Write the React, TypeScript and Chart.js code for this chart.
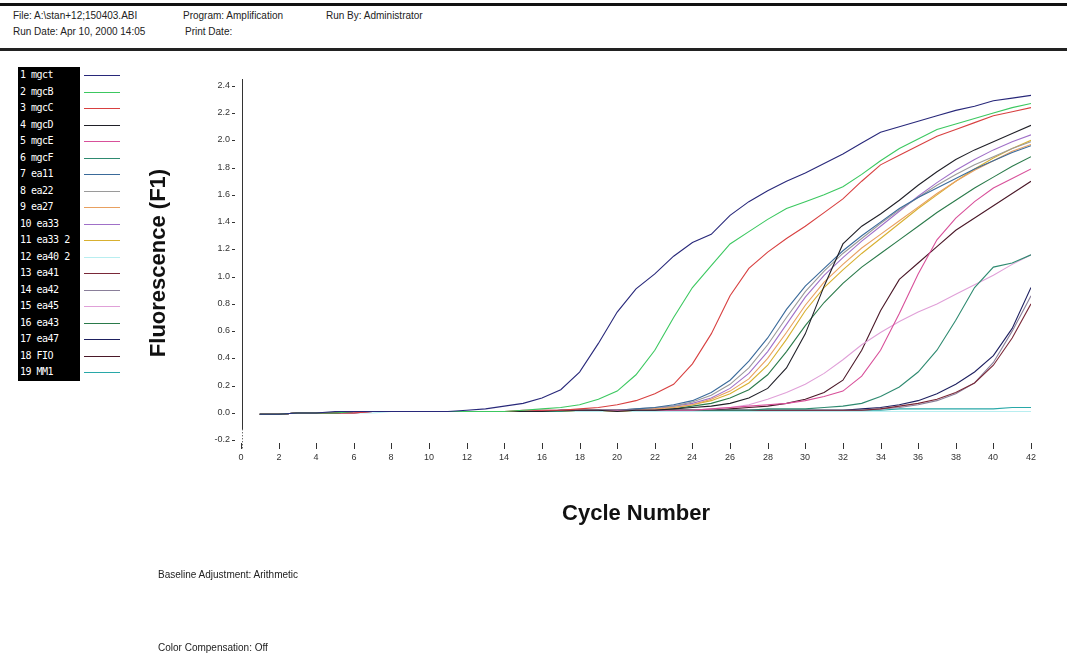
import React, { useEffect, useRef } from "react";
import { Chart, registerables } from "chart.js";

Chart.register(...registerables);

const CYCLES = [1,2,3,4,5,6,7,8,9,10,11,12,13,14,15,16,17,18,19,20,21,22,23,24,25,26,27,28,29,30,31,32,33,34,35,36,37,38,39,40,41,42];
const X_TICKS = [0,2,4,6,8,10,12,14,16,18,20,22,24,26,28,30,32,34,36,38,40,42];
const Y_TICKS = [2.4,2.2,2.0,1.8,1.6,1.4,1.2,1.0,0.8,0.6,0.4,0.2,0.0,-0.2];

const NAMES = ["1 mgct","2 mgcB","3 mgcC","4 mgcD","5 mgcE","6 mgcF","7 ea11","8 ea22","9 ea27","10 ea33","11 ea33 2","12 ea40 2","13 ea41","14 ea42","15 ea45","16 ea43","17 ea47","18 FIO","19 MM1"];

const S1 = [-0.01,-0.01,0,0,0.01,0.01,0.01,0.01,0.01,0.01,0.01,0.02, 0.03,0.05,0.07,0.11,0.17,0.30,0.51,0.74,0.91,1.02, 1.15,1.25,1.31,1.45,1.55,1.63,1.70,1.76,1.83,1.90, 1.98,2.06,2.10,2.14,2.18,2.22,2.25,2.29,2.31,2.33];
const S2 = [-0.01,-0.01,0,0,0,0.01,0.01,0.01,0.01,0.01,0.01,0.01, 0.01,0.01,0.02,0.03,0.04,0.06,0.10,0.16,0.28,0.46, 0.70,0.92,1.08,1.24,1.33,1.42,1.50,1.55,1.60,1.66, 1.75,1.85,1.94,2.01,2.08,2.12,2.16,2.20,2.24,2.27];
const S3 = [-0.01,-0.01,0,0,0,0,0.01,0.01,0.01,0.01,0.01,0.01, 0.01,0.01,0.02,0.02,0.02,0.03,0.04,0.06,0.09,0.14, 0.21,0.36,0.58,0.86,1.06,1.18,1.28,1.37,1.47,1.57, 1.70,1.82,1.89,1.96,2.03,2.08,2.13,2.18,2.21,2.24];
const S4 = [-0.01,-0.01,0,0,0,0.01,0.01,0.01,0.01,0.01,0.01,0.01, 0.01,0.01,0.01,0.01,0.02,0.02,0.02,0.01,0.02,0.02, 0.03,0.04,0.05,0.07,0.11,0.18,0.33,0.58,0.93,1.24, 1.37,1.46,1.56,1.67,1.77,1.86,1.93,1.99,2.05,2.11];
const S5 = [-0.01,-0.01,0,0,0,0,0.01,0.01,0.01,0.01,0.01,0.01, 0.01,0.01,0.01,0.02,0.02,0.02,0.02,0.02,0.02,0.02, 0.02,0.02,0.03,0.04,0.05,0.06,0.07,0.09,0.12,0.16, 0.27,0.46,0.73,1.02,1.27,1.43,1.55,1.65,1.72,1.79];
const S6 = [-0.01,-0.01,0,0,0,0,0.01,0.01,0.01,0.01,0.01,0.01, 0.01,0.01,0.01,0.01,0.01,0.02,0.02,0.02,0.02,0.02, 0.02,0.02,0.02,0.02,0.02,0.03,0.03,0.03,0.04,0.05, 0.07,0.12,0.19,0.30,0.46,0.68,0.92,1.07,1.10,1.16];
const S7 = [-0.01,-0.01,0,0,0,0.01,0.01,0.01,0.01,0.01,0.01,0.01, 0.01,0.01,0.01,0.01,0.02,0.02,0.02,0.02,0.03,0.04, 0.06,0.09,0.15,0.24,0.38,0.55,0.76,0.93,1.06,1.19, 1.30,1.40,1.50,1.58,1.65,1.72,1.79,1.85,1.91,1.96];
const S8 = [-0.01,-0.01,0,0,0,0.01,0.01,0.01,0.01,0.01,0.01,0.01, 0.01,0.01,0.01,0.01,0.02,0.02,0.02,0.02,0.03,0.04, 0.05,0.08,0.13,0.21,0.33,0.50,0.70,0.89,1.04,1.17, 1.28,1.39,1.49,1.58,1.67,1.75,1.82,1.88,1.94,1.99];
const S9 = [-0.01,-0.01,0,0,0,0.01,0.01,0.01,0.01,0.01,0.01,0.01, 0.01,0.01,0.01,0.01,0.01,0.02,0.02,0.01,0.02,0.03, 0.04,0.06,0.10,0.16,0.25,0.40,0.59,0.79,0.96,1.09, 1.21,1.31,1.41,1.51,1.61,1.70,1.78,1.85,1.92,1.97];
const S10 = [-0.01,-0.01,0,0,0,0.01,0.01,0.01,0.01,0.01,0.01,0.01, 0.01,0.01,0.01,0.01,0.02,0.02,0.02,0.02,0.02,0.03, 0.05,0.07,0.11,0.18,0.29,0.45,0.65,0.85,1.01,1.14, 1.26,1.37,1.48,1.59,1.69,1.78,1.86,1.93,1.99,2.04];
const S11 = [-0.01,-0.01,0,0,0,0.01,0.01,0.01,0.01,0.01,0.01,0.01, 0.01,0.01,0.01,0.01,0.01,0.02,0.02,0.01,0.02,0.03, 0.04,0.06,0.09,0.14,0.22,0.35,0.54,0.75,0.92,1.05, 1.17,1.28,1.39,1.50,1.60,1.70,1.79,1.87,1.94,2.00];
const S12 = [-0.01,-0.01,0,0,0,0,0,0.01,0.01,0.01,0.01,0.01, 0.01,0.01,0.01,0.01,0.01,0.01,0.01,0.01,0.01,0.01, 0.01,0.01,0.01,0.01,0.01,0.01,0.01,0.01,0.01,0.01, 0.01,0.01,0.01,0.01,0.01,0.01,0.01,0.01,0.01,0.01];
const S13 = [-0.01,-0.01,0,0,0,0.01,0.01,0.01,0.01,0.01,0.01,0.01, 0.01,0.01,0.01,0.01,0.01,0.01,0.02,0.02,0.02,0.02, 0.02,0.02,0.02,0.02,0.02,0.02,0.02,0.02,0.02,0.02, 0.02,0.03,0.05,0.07,0.10,0.15,0.22,0.35,0.55,0.80];
const S14 = [-0.01,-0.01,0,0,0,0.01,0.01,0.01,0.01,0.01,0.01,0.01, 0.01,0.01,0.01,0.01,0.01,0.01,0.01,0.02,0.02,0.02, 0.02,0.02,0.02,0.02,0.02,0.02,0.02,0.02,0.02,0.02, 0.02,0.03,0.04,0.06,0.09,0.14,0.22,0.37,0.60,0.86];
const S15 = [-0.01,-0.01,0,0,0,0.01,0.01,0.01,0.01,0.01,0.01,0.01, 0.01,0.01,0.01,0.01,0.01,0.01,0.01,0.01,0.01,0.01, 0.01,0.02,0.03,0.04,0.06,0.10,0.15,0.21,0.29,0.39, 0.50,0.59,0.67,0.74,0.80,0.87,0.94,1.01,1.09,1.16];
const S16 = [-0.01,-0.01,0,0,0,0.01,0.01,0.01,0.01,0.01,0.01,0.01, 0.01,0.01,0.01,0.01,0.01,0.01,0.02,0.01,0.02,0.02, 0.03,0.05,0.07,0.11,0.17,0.28,0.45,0.64,0.81,0.95, 1.07,1.17,1.27,1.37,1.47,1.56,1.65,1.73,1.81,1.88];
const S17 = [-0.01,-0.01,0,0,0,0.01,0.01,0.01,0.01,0.01,0.01,0.01, 0.01,0.01,0.01,0.01,0.01,0.01,0.01,0.01,0.01,0.02, 0.02,0.02,0.02,0.02,0.02,0.02,0.02,0.02,0.02,0.02, 0.03,0.04,0.06,0.09,0.14,0.21,0.30,0.42,0.62,0.92];
const S18 = [-0.01,-0.01,0,0,0,0.01,0.01,0.01,0.01,0.01,0.01,0.01, 0.01,0.01,0.01,0.01,0.01,0.02,0.02,0.02,0.02,0.02, 0.02,0.02,0.02,0.03,0.04,0.05,0.07,0.10,0.15,0.24, 0.46,0.75,0.98,1.10,1.22,1.34,1.43,1.52,1.61,1.70];
const S19 = [-0.01,-0.01,0,0,0,0.01,0.01,0.01,0.01,0.01,0.01,0.01, 0.01,0.01,0.01,0.01,0.01,0.01,0.01,0.01,0.01,0.01, 0.01,0.01,0.01,0.02,0.02,0.02,0.02,0.02,0.02,0.02, 0.02,0.02,0.03,0.03,0.03,0.03,0.03,0.03,0.04,0.04];

const SERIES = [S1,S2,S3,S4,S5,S6,S7,S8,S9,S10,S11,S12,S13,S14,S15,S16,S17,S18,S19];
const COLORS = ["#28287a","#3cc860","#d84040","#202028","#d8509a","#2e8a70","#3a6a9a","#9a9a9a","#e8a060","#a070c8","#d8b030","#b8eef0","#7a2838","#8a7f9a","#e0a0d8","#2a7a4a","#1e2060","#4a1828","#28a8a8"];

const HEADER_LINE1 = ["File: A:\\stan+12;150403.ABI", "Program: Amplification", "Run By: Administrator"];
const HEADER_LINE2 = ["Run Date: Apr 10, 2000 14:05", "Print Date:"];

const axesPlugin = {
  id: "pcrAxes",
  afterDraw(chart: any) {
    const ctx = chart.ctx;
    const xs = chart.scales.x;
    const ys = chart.scales.y;
    const x0 = xs.getPixelForValue(0) + 1;
    ctx.save();
    ctx.strokeStyle = "#333";
    ctx.lineWidth = 1;
    // vertical axis line
    ctx.beginPath();
    ctx.moveTo(x0 + 0.5, ys.getPixelForValue(2.45));
    ctx.lineTo(x0 + 0.5, ys.getPixelForValue(-0.12));
    ctx.stroke();
    ctx.setLineDash([1, 2]);
    ctx.beginPath();
    ctx.moveTo(x0 + 0.5, ys.getPixelForValue(-0.12));
    ctx.lineTo(x0 + 0.5, ys.getPixelForValue(-0.27));
    ctx.stroke();
    ctx.setLineDash([]);
    // y ticks
    ctx.fillStyle = "#333";
    ctx.font = "9px 'Liberation Sans', Arial, sans-serif";
    ctx.textAlign = "right";
    ctx.textBaseline = "middle";
    Y_TICKS.forEach((v) => {
      const py = Math.round(ys.getPixelForValue(v));
      ctx.fillText(v.toFixed(1), x0 - 12, py);
      ctx.fillRect(x0 - 10, py, 3, 1);
    });
    // x ticks
    ctx.textAlign = "center";
    X_TICKS.forEach((v) => {
      const px = Math.round(xs.getPixelForValue(v));
      ctx.fillRect(px, 443, 1, 6);
      ctx.fillText(String(v), px, 458);
    });
    // titles
    ctx.fillStyle = "#111";
    ctx.font = "bold 22px 'Liberation Sans', Arial, sans-serif";
    ctx.textAlign = "center";
    ctx.fillText("Cycle Number", 636, 514);
    ctx.save();
    ctx.translate(159, 263);
    ctx.rotate(-Math.PI / 2);
    ctx.fillText("Fluorescence (F1)", 0, 0);
    ctx.restore();
    ctx.restore();
  },
};

export default function App() {
  const ref = useRef<HTMLCanvasElement | null>(null);
  useEffect(() => {
    document.body.style.margin = "0";
    document.body.style.overflow = "hidden";
    if (!ref.current) return;
    const datasets = SERIES.map((vals, i) => ({
      label: NAMES[i],
      data: CYCLES.map((c, j) => ({ x: c, y: vals[j] })),
      borderColor: COLORS[i],
      backgroundColor: COLORS[i],
      borderWidth: 1.1,
      pointRadius: 0,
      tension: 0,
      fill: false,
    }));
    const chart = new Chart(ref.current, {
      type: "line",
      data: { datasets },
      options: {
        animation: false,
        responsive: false,
        maintainAspectRatio: false,
        layout: { padding: { left: 241, right: 36, top: 79, bottom: 212 } },
        plugins: { legend: { display: false }, tooltip: { enabled: false } },
        scales: {
          x: { type: "linear", min: 0, max: 42, display: false },
          y: { type: "linear", min: -0.25, max: 2.45, display: false },
        },
      },
      plugins: [axesPlugin],
    });
    return () => chart.destroy();
  }, []);

  const font = "'Liberation Sans', Arial, sans-serif";
  return (
    <div style={{ position: "absolute", left: 0, top: 0, width: 1067, height: 659, background: "#fff", fontFamily: font }}>
      <div style={{ position: "absolute", left: 0, top: 3, width: 1067, height: 3, background: "#111" }} />
      <div style={{ position: "absolute", left: 0, top: 48, width: 1067, height: 3, background: "#222" }} />
      {HEADER_LINE1.map((t, i) => (
        <div key={"h1" + i} style={{ position: "absolute", top: 10, left: [13, 183, 326][i], fontSize: 10, color: "#222", whiteSpace: "pre" }}>{t}</div>
      ))}
      {HEADER_LINE2.map((t, i) => (
        <div key={"h2" + i} style={{ position: "absolute", top: 26, left: [13, 185][i], fontSize: 10, color: "#222", whiteSpace: "pre" }}>{t}</div>
      ))}
      <div style={{ position: "absolute", left: 18, top: 67, width: 62, height: 314, background: "#000" }} />
      {NAMES.map((n, i) => (
        <React.Fragment key={n}>
          <div style={{ position: "absolute", left: 20, top: 69 + i * 16.5, fontSize: 10, lineHeight: "12px", color: "#fff", whiteSpace: "pre", fontFamily: "'DejaVu Sans Mono', monospace", letterSpacing: -0.5 }}>{n}</div>
          <div style={{ position: "absolute", left: 84, top: 75 + i * 16.5, width: 36, height: 1.2, background: COLORS[i] }} />
        </React.Fragment>
      ))}
      <canvas ref={ref} width={1067} height={659} style={{ position: "absolute", left: 0, top: 0, width: 1067, height: 659 }} />
      <div style={{ position: "absolute", left: 158, top: 569, fontSize: 10, color: "#222" }}>Baseline Adjustment: Arithmetic</div>
      <div style={{ position: "absolute", left: 158, top: 642, fontSize: 10, color: "#222" }}>Color Compensation: Off</div>
    </div>
  );
}
